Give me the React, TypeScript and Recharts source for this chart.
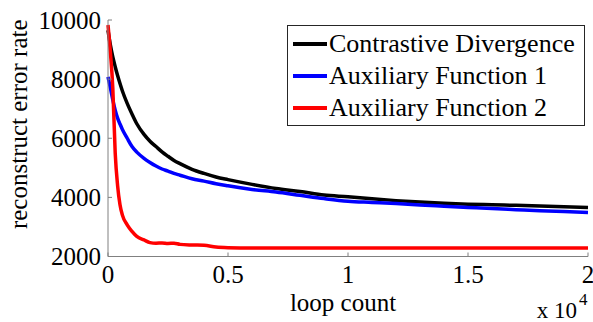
import React from 'react';
import { LineChart, Line, XAxis, YAxis, Label } from 'recharts';

// loop counts where the error was sampled
const loopCounts = [
  0, 100, 200, 300, 400, 500, 600, 800, 1000, 1200, 1500, 1750, 2000, 2250, 2500, 2750, 3000, 3500, 4000, 4500,
  5000, 6000, 7000, 8000, 9000, 10000, 11000, 12000, 13000, 14000, 15000, 16000, 17000, 18000, 19000, 20000,
];

const cdError = [
  9650, 9150, 8750, 8420, 8120, 7850, 7600, 7180, 6820, 6490, 6130, 5900, 5720, 5540, 5390, 5250, 5140, 4950, 4810, 4690,
  4600, 4440, 4300, 4200, 4080, 4020, 3950, 3890, 3840, 3800, 3770, 3750, 3730, 3710, 3685, 3660,
];

const af1Error = [
  8080, 7700, 7300, 6950, 6680, 6480, 6300, 6000, 5720, 5530, 5320, 5180, 5060, 4960, 4890, 4810, 4750, 4630, 4550, 4460,
  4390, 4270, 4180, 4070, 3960, 3870, 3830, 3790, 3740, 3700, 3660, 3620, 3585, 3550, 3520, 3490,
];

const af2Error = [
  9830, 8900, 7700, 5500, 4400, 3750, 3400, 3070, 2850, 2680, 2560, 2470, 2450, 2460, 2440, 2450, 2410, 2390, 2380, 2320,
  2300, 2290, 2290, 2290, 2290, 2290, 2290, 2290, 2290, 2290, 2290, 2290, 2290, 2290, 2290, 2290,
];

const seriesNames = ['Contrastive Divergence', 'Auxiliary Function 1', 'Auxiliary Function 2'];
const seriesColors = ['#000000', '#0000ff', '#ff0000'];

const xTicks = [0, 5000, 10000, 15000, 20000];
const yTicks = [2000, 4000, 6000, 8000, 10000];

const data = loopCounts.map((x, i) => ({ x, cd: cdError[i], af1: af1Error[i], af2: af2Error[i] }));

const FONT = "'Liberation Serif', 'DejaVu Serif', serif";
const AXIS_GRAY = '#808080';

const XTick = (props: any) => {
  const { x, y, payload } = props;
  return (
    <g>
      <line x1={x} y1={y} x2={x} y2={y - 4} stroke={AXIS_GRAY} />
      <text x={x} y={y + 26} textAnchor="middle" style={{ fontFamily: FONT, fontSize: 25 }} fill="#000">
        {payload.value / 10000}
      </text>
    </g>
  );
};

const YTick = (props: any) => {
  const { x, y, payload } = props;
  return (
    <g>
      <line x1={x} y1={y} x2={x + 4} y2={y} stroke={AXIS_GRAY} />
      <text x={x - 7} y={y} dy="0.35em" textAnchor="end" style={{ fontFamily: FONT, fontSize: 25 }} fill="#000">
        {payload.value}
      </text>
    </g>
  );
};

// legend drawn over the plot, like the boxed MATLAB legend
const LegendBox = () => (
  <div
    style={{
      position: 'absolute',
      left: 287,
      top: 25,
      border: '1px solid #262626',
      background: '#fff',
      width: 298,
      height: 101,
      boxSizing: 'border-box',
      padding: '2px 0 0 5px',
      fontFamily: FONT,
      fontSize: 26,
      lineHeight: '32px',
      color: '#000',
    }}
  >
    {seriesNames.map((name, i) => (
      <div key={name} style={{ display: 'flex', alignItems: 'center', whiteSpace: 'nowrap' }}>
        <span style={{ display: 'inline-block', width: 34, height: 3.5, background: seriesColors[i], marginRight: 2 }} />
        <span>{name}</span>
      </div>
    ))}
  </div>
);

export default function App() {
  return (
    <div style={{ position: 'absolute', left: 0, top: 0, width: 593, height: 322, background: '#fff' }}>
      <LineChart width={593} height={322} data={data} margin={{ top: 20, right: 5, bottom: 0, left: 0 }}>
        <XAxis
          type="number"
          dataKey="x"
          domain={[0, 20000]}
          ticks={xTicks}
          height={65.5}
          tickSize={0}
          tickMargin={0}
          axisLine={{ stroke: AXIS_GRAY }}
          tickLine={false}
          tick={<XTick />}
          interval={0}
        >
          <Label
            content={(p: any) => {
              const vb = p.viewBox;
              return (
                <g style={{ fontFamily: FONT }} fill="#000">
                  <text x={vb.x + vb.width / 2 - 5} y={311} textAnchor="middle" style={{ fontSize: 25 }}>
                    loop count
                  </text>
                  <text x={577} y={318} textAnchor="end" style={{ fontSize: 23 }}>
                    x 10
                  </text>
                  <text x={579} y={305} style={{ fontSize: 17 }}>
                    4
                  </text>
                </g>
              );
            }}
          />
        </XAxis>
        <YAxis
          type="number"
          domain={[2000, 10000]}
          ticks={yTicks}
          width={108}
          tickSize={0}
          tickMargin={0}
          axisLine={{ stroke: AXIS_GRAY }}
          tickLine={false}
          tick={<YTick />}
          interval={0}
        >
          <Label
            content={(p: any) => {
              const vb = p.viewBox;
              const cy = vb.y + vb.height / 2 - 14;
              return (
                <text
                  x={27}
                  y={cy}
                  transform={`rotate(-90, 27, ${cy})`}
                  textAnchor="middle"
                  style={{ fontFamily: FONT, fontSize: 25 }}
                  fill="#000"
                >
                  reconstruct error rate
                </text>
              );
            }}
          />
        </YAxis>
        <Line type="monotone" dataKey="cd" name={seriesNames[0]} stroke={seriesColors[0]} strokeWidth={3.5} dot={false} isAnimationActive={false} />
        <Line type="monotone" dataKey="af1" name={seriesNames[1]} stroke={seriesColors[1]} strokeWidth={3.5} dot={false} isAnimationActive={false} />
        <Line type="monotone" dataKey="af2" name={seriesNames[2]} stroke={seriesColors[2]} strokeWidth={3.5} dot={false} isAnimationActive={false} />
      </LineChart>
      <LegendBox />
    </div>
  );
}
